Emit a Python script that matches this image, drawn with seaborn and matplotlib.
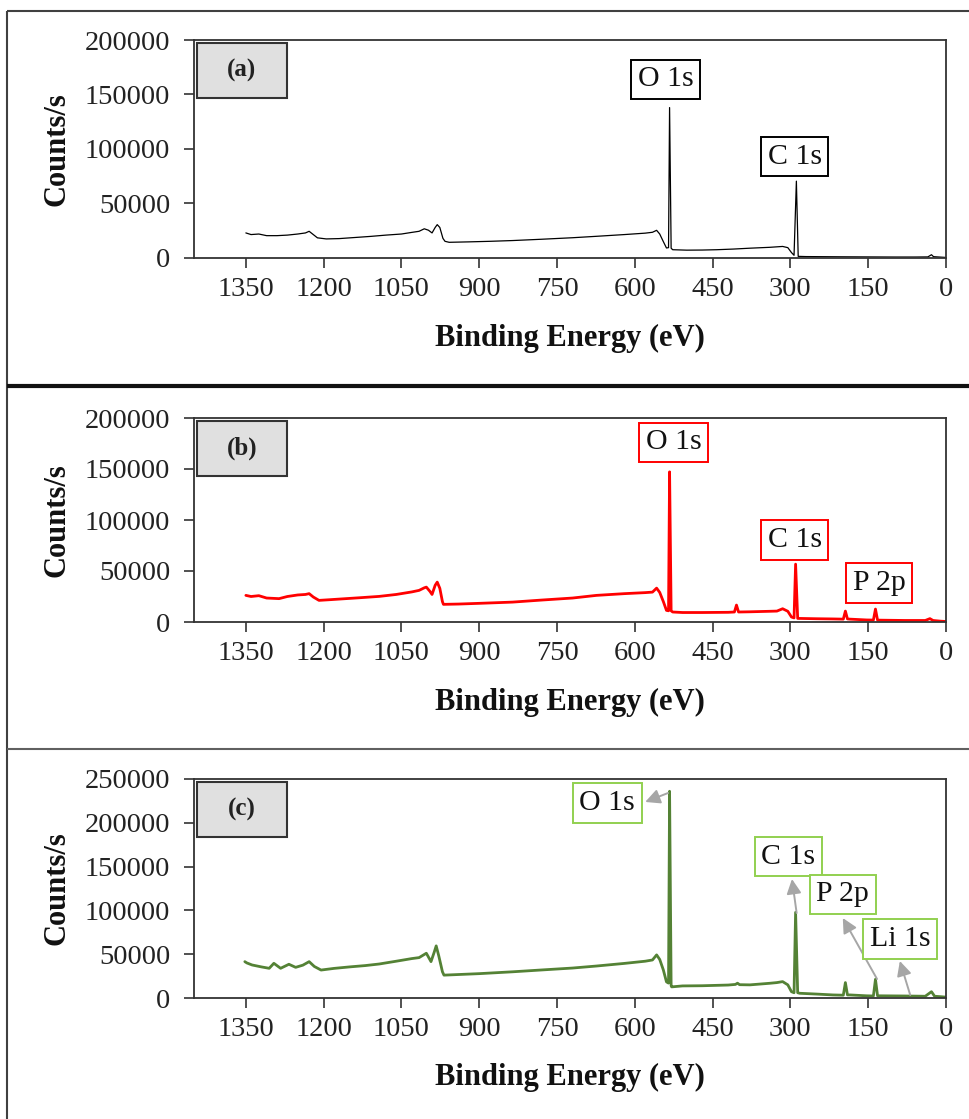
import matplotlib
matplotlib.use("Agg")
import numpy as np
import pandas as pd
import seaborn as sns
import matplotlib.pyplot as plt
from matplotlib.patches import Rectangle
from matplotlib.lines import Line2D

# ---------------- data ----------------
be_a = [1350, 1340, 1325, 1310, 1290, 1270, 1250, 1235, 1228, 1220, 1212, 1195, 1170, 1140,
        1110, 1080, 1050, 1030, 1016, 1006, 998, 991, 985, 981, 976, 970, 966, 958, 920, 880,
        836, 780, 720, 674, 620, 580, 566, 558, 552, 545, 539, 535, 533, 530, 527, 500, 470,
        442, 410, 378, 340, 315, 305, 298, 293, 288.5, 285, 270, 200, 150, 100, 60, 35, 28,
        24, 10, 0]
cps_a = [23000, 21500, 22000, 20500, 20500, 21000, 22000, 23000, 24500, 21500, 18500, 17500,
         17800, 18800, 19800, 21000, 22000, 23500, 24500, 26800, 25500, 23000, 28000, 30600,
         28000, 18000, 15300, 14400, 14800, 15300, 16000, 17200, 18600, 19900, 21500, 22800,
         23600, 25400, 22000, 15000, 9200, 9500, 138000, 9000, 7600, 7200, 7300, 7600, 8200,
         9000, 9800, 10600, 9500, 5000, 2500, 70500, 1500, 1300, 1100, 1000, 900, 900, 1000,
         3000, 1200, 800, 500]

be_b = [1350, 1340, 1325, 1310, 1286, 1270, 1250, 1235, 1228, 1220, 1209, 1190, 1160, 1130,
        1093, 1060, 1030, 1016, 1006, 1002, 995, 991, 985, 981, 976, 971, 969, 940, 900, 836,
        780, 720, 674, 620, 580, 566, 558, 552, 545, 539, 535, 533, 530, 527, 508, 470, 420,
        408, 404, 400, 378, 340, 326, 315, 305, 298, 293, 290, 286, 282, 250, 218, 198, 194,
        190, 185, 153, 140, 136, 132, 127, 80, 40, 31, 25, 10, 0]
cps_b = [26100, 25000, 25800, 23500, 22900, 25000, 26500, 27000, 27800, 24500, 21200, 21800,
         22800, 23800, 25100, 27000, 29500, 31000, 33500, 34200, 30000, 27000, 36000, 39100,
         33000, 20000, 17300, 17600, 18300, 19500, 21500, 23500, 26100, 27800, 28800, 29300,
         33200, 29000, 20000, 11400, 11000, 147200, 11000, 9800, 9300, 9300, 9500, 9800,
         16600, 9800, 10000, 10500, 10700, 13000, 10500, 4900, 4000, 56700, 3500, 3500, 3200,
         3000, 2800, 10700, 3000, 2800, 2000, 1900, 12700, 1900, 1800, 1500, 1500, 3300, 1500,
         800, 500]

be_c = [1352, 1348, 1338, 1320, 1305, 1296, 1283, 1267, 1254, 1240, 1228, 1218, 1205, 1180,
        1150, 1120, 1093, 1060, 1030, 1016, 1002, 993, 987, 983, 978, 971, 968, 940, 900, 836,
        780, 720, 674, 620, 580, 566, 558, 552, 545, 539, 535, 533, 530, 529, 508, 470, 420,
        406, 402, 398, 378, 340, 326, 315, 305, 298, 293, 290, 286, 282, 250, 218, 198, 194,
        190, 185, 153, 140, 136, 132, 127, 80, 40, 28, 22, 10, 0]
cps_c = [41500, 40000, 37700, 35500, 33900, 39600, 33900, 38500, 35000, 37500, 41500, 36000,
         31900, 33800, 35500, 37000, 38800, 42000, 45000, 46100, 51100, 41500, 52000, 59500,
         48000, 30000, 26100, 26800, 27800, 29900, 32000, 34200, 36500, 39500, 42000, 43400,
         49200, 44000, 32000, 18400, 17000, 236000, 14000, 12700, 13800, 14000, 14800, 15500,
         16900, 15200, 15000, 16800, 17600, 18700, 15000, 7200, 6000, 97800, 6000, 5400, 4500,
         3500, 3200, 17600, 3500, 3500, 2500, 2300, 21400, 2500, 2500, 2300, 2000, 7200, 2000,
         1500, 1000]

x_ticks = [1350, 1200, 1050, 900, 750, 600, 450, 300, 150, 0]
y_ticks_ab = [0, 50000, 100000, 150000, 200000]
y_ticks_c = [0, 50000, 100000, 150000, 200000, 250000]
panel_tags = ["(a)", "(b)", "(c)"]

# peak labels: (text, x, y)
labels_a = [("O 1s", 541, 164000), ("C 1s", 292, 93000)]
labels_b = [("O 1s", 525, 176000), ("C 1s", 292, 80400), ("P 2p", 129, 38200)]
labels_c = [("O 1s", 653, 222600), ("C 1s", 304, 161500), ("P 2p", 199, 118200),
            ("Li 1s", 88, 67400)]
# arrows in (c): (tail x, tail y, head x, head y)
arrows_c = [(536, 234000, 580, 223800), (288, 97000, 297, 135800),
            (133, 21700, 199, 91300), (69, 3400, 89, 42200)]

# ---------------- styling ----------------
sns.set_theme(style="ticks")
plt.rcParams["font.family"] = ["Liberation Serif", "DejaVu Serif"]
plt.rcParams["axes.linewidth"] = 1.3

W, H = 969, 1119
fig = plt.figure(figsize=(W / 100, H / 100), dpi=100)
fig.patch.set_facecolor("white")


def rect(left, right, top, bottom):
    return [left / W, 1 - bottom / H, (right - left) / W, (bottom - top) / H]


def fline(x0, y0, x1, y1, color, lw):
    fig.add_artist(Line2D([x0 / W, x1 / W], [1 - y0 / H, 1 - y1 / H],
                          transform=fig.transFigure, color=color, lw=lw,
                          solid_capstyle="butt"))


# outer frames
fline(7, 11, 969, 11, "#404040", 1.5)
fline(7, 11, 7, 1119, "#404040", 1.5)
fline(7, 386, 969, 386, "#111111", 3.0)
fline(7, 749, 969, 749, "#606060", 1.5)

panels = [
    dict(be=be_a, cps=cps_a, color="#000000", lw=0.9, top=40, bottom=258, ymax=200000,
         yt=y_ticks_ab, labels=labels_a, ec="#000000", tag=panel_tags[0], xl_top=324),
    dict(be=be_b, cps=cps_b, color="#ff0000", lw=2.0, top=418, bottom=622, ymax=200000,
         yt=y_ticks_ab, labels=labels_b, ec="#ff0000", tag=panel_tags[1], xl_top=688),
    dict(be=be_c, cps=cps_c, color="#548235", lw=2.0, top=779, bottom=998, ymax=250000,
         yt=y_ticks_c, labels=labels_c, ec="#92d050", tag=panel_tags[2], xl_top=1063),
]

for i, p in enumerate(panels):
    ax = fig.add_axes(rect(194, 946, p["top"], p["bottom"]))
    df = pd.DataFrame({"be": p["be"], "cps": p["cps"]})
    sns.lineplot(data=df, x="be", y="cps", ax=ax, color=p["color"], lw=p["lw"],
                 estimator=None, sort=False)
    ax.set_xlim(1450, 0)
    ax.set_ylim(0, p["ymax"])
    ax.set_xticks(x_ticks)
    ax.set_xticklabels([str(v) for v in x_ticks])
    ax.set_yticks(p["yt"])
    ax.set_yticklabels([str(v) for v in p["yt"]])
    ax.tick_params(axis="both", direction="out", length=7, width=1.2, colors="#333333",
                   labelsize=20.5, labelcolor="#222222")
    ax.tick_params(axis="y", pad=10)
    ax.tick_params(axis="x", pad=7)
    for s in ax.spines.values():
        s.set_visible(True)
        s.set_color("#333333")
        s.set_linewidth(1.3)
    h = p["bottom"] - p["top"]
    ax.set_xlabel("Binding Energy (eV)", fontsize=22, fontweight="bold", color="#111111")
    ax.xaxis.set_label_coords(0.5, (p["bottom"] - p["xl_top"]) / h)
    ax.set_ylabel("Counts/s", fontsize=22, fontweight="bold", color="#111111")
    ax.yaxis.set_label_coords(-0.163, 0.5)

    # panel tag box
    bt = p["top"] + 3
    fig.add_artist(Rectangle((197 / W, 1 - (bt + 55) / H), 90 / W, 55 / H,
                             transform=fig.transFigure, facecolor="#e0e0e0",
                             edgecolor="#333333", lw=1.5))
    fig.text(242 / W, 1 - (bt + 27.5) / H, p["tag"], ha="center", va="center",
             fontsize=18, fontweight="bold", color="#222222")

    # peak labels
    for txt, x, y in p["labels"]:
        ax.text(x, y, txt, ha="center", va="center", fontsize=21.5, color="#111111",
                bbox=dict(boxstyle="square,pad=0.22", fc="white", ec=p["ec"], lw=1.4),
                zorder=5)
    if i == 2:
        for x0, y0, x1, y1 in arrows_c:
            ax.annotate("", xy=(x1, y1), xytext=(x0, y0),
                        arrowprops=dict(arrowstyle="-|>", color="#a6a6a6", lw=1.4,
                                        mutation_scale=22, shrinkA=0, shrinkB=0),
                        zorder=4)

fig.savefig("out.png", dpi=100, facecolor="white")
